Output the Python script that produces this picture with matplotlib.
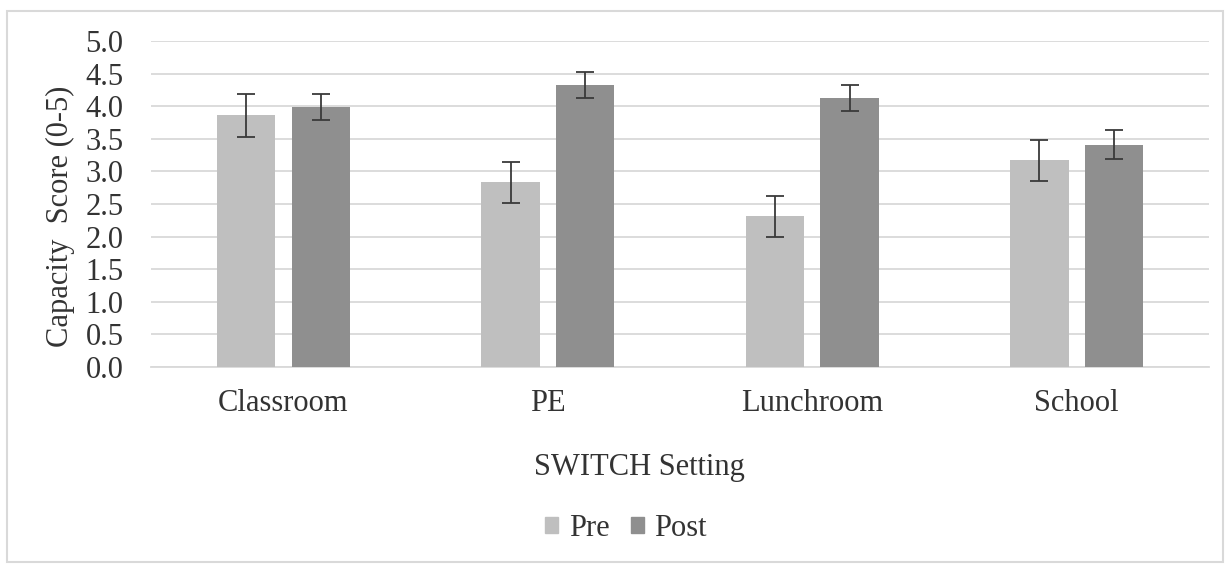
import matplotlib
matplotlib.use('Agg')
import numpy as np
import matplotlib.pyplot as plt
from matplotlib.patches import Rectangle, Patch

plt.rcParams['font.family'] = ['Liberation Serif', 'DejaVu Serif']

# data
categories = ['Classroom', 'PE', 'Lunchroom', 'School']
pre = [3.86, 2.83, 2.31, 3.17]
pre_err = [0.33, 0.31, 0.31, 0.31]
post = [3.99, 4.33, 4.12, 3.41]
post_err = [0.20, 0.20, 0.20, 0.22]
yticks = np.arange(0, 5.01, 0.5)

pre_color = '#bfbfbf'
post_color = '#8f8f8f'
grid_color = '#d9d9d9'
text_color = '#333333'
fs = 22

fig = plt.figure(figsize=(12.28, 5.67), dpi=100)
ax = fig.add_axes([0.1232, 0.3527, 0.8613, 0.575])

x = np.arange(len(categories))
w = 0.221
off = 0.141
err_kw = dict(ecolor='#3a3a3a', elinewidth=1.3, capsize=6.5, capthick=1.3)
ax.bar(x - off, pre, w, color=pre_color, yerr=pre_err, error_kw=err_kw, zorder=3)
ax.bar(x + off, post, w, color=post_color, yerr=post_err, error_kw=err_kw, zorder=3)

ax.set_xlim(-0.5, len(categories) - 0.5)
ax.set_ylim(0, 5)
ax.set_yticks(yticks)
ax.set_yticklabels(['%.1f' % t for t in yticks])
ax.set_xticks(x)
ax.set_xticklabels(categories)
ax.tick_params(axis='both', length=0, labelsize=fs, colors=text_color)
ax.tick_params(axis='y', pad=20)
ax.tick_params(axis='x', pad=16)
ax.yaxis.grid(True, color=grid_color, linewidth=1.3, zorder=0)
for s in ['top', 'right', 'left']:
    ax.spines[s].set_visible(False)
ax.spines['bottom'].set_color(grid_color)
ax.spines['bottom'].set_linewidth(1.3)

fig.text(60 / 1228, 1 - 216 / 567, 'Capacity  Score (0-5)', rotation=90,
         ha='center', va='center', fontsize=fs, color=text_color)
fig.text(639 / 1228, 1 - 467 / 567, 'SWITCH Setting', ha='center', va='center',
         fontsize=fs, color=text_color)

handles = [Patch(color=pre_color, label='Pre'), Patch(color=post_color, label='Post')]
leg = fig.legend(handles=handles, loc='center', bbox_to_anchor=(626 / 1228, 1 - 528 / 567),
                 ncol=2, frameon=False, fontsize=fs, handlelength=0.42, handleheight=0.42,
                 handletextpad=0.35, columnspacing=0.7)
for t in leg.get_texts():
    t.set_color(text_color)

# outer chart border
fig.patches.append(Rectangle((7 / 1228, 1 - 562 / 567), 1216 / 1228, 551 / 567,
                             transform=fig.transFigure, fill=False,
                             edgecolor=grid_color, linewidth=1.5))

fig.savefig('out.png', dpi=100)
